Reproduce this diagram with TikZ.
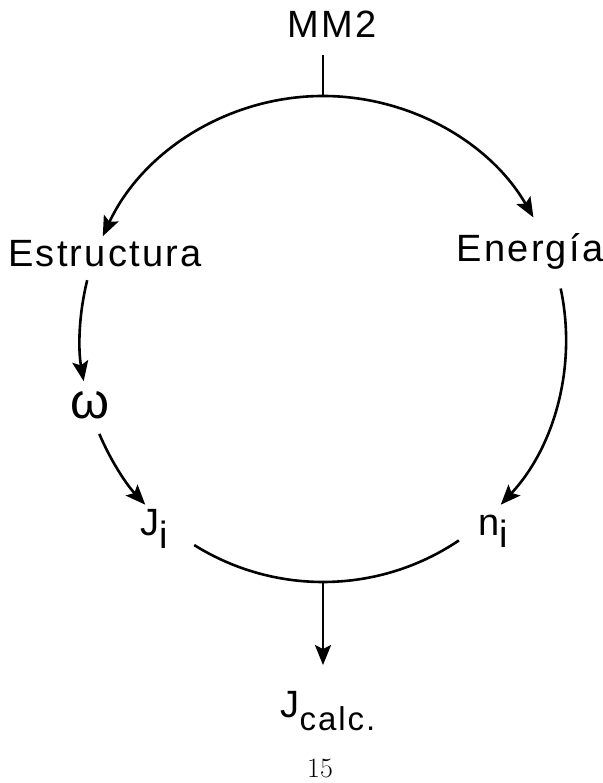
\documentclass[tikz,border=0pt]{standalone}
\usepackage{fontspec}
\newfontfamily\letra[LetterSpace=6]{Liberation Sans}
\usetikzlibrary{arrows.meta}
\begin{document}
\begin{tikzpicture}[x=1pt, y=1pt,
    lbl/.style={font=\letra\fontsize{38}{40}\selectfont, inner sep=0pt},
    ring/.style={line width=2.6pt},
    flow/.style={ring, -{Stealth[length=20pt, width=16pt, inset=4pt]}}]
      \useasboundingbox (0,0) rectangle (602,783);
      \coordinate (C) at (323,444);
      \coordinate (top) at (323,687);
      \coordinate (bot) at (323,201);
      % labels
      \node[lbl] (mm2) at (332,759) {MM2};
      \node[lbl] (est) at (105,529) {Estructura};
      \node[lbl] (ene) at (530,532) {Energía};
      \node[lbl, font=\letra\fontsize{50}{52}\selectfont] (om) at (90,378) {ω};
      \node[lbl] (ji) at (154,254) {J\raisebox{-13pt}{i}};
      \node[lbl] (ni) at (493,252) {n\raisebox{-12pt}{i}};
      \node[lbl] (jc) at (328,72) {J\raisebox{-13pt}{\fontsize{33}{34}\selectfont calc.}};
      \node[inner sep=0pt, font=\fontsize{28}{30}\selectfont] (pg) at (320,15) {15};
      % ring
      \draw[ring, shorten <=18pt] (top |- mm2.south) -- (top);
      \draw[flow] (top) arc[start angle=90, end angle=155, radius=243];
      \draw[flow] (top) arc[start angle=90, end angle=30, radius=243];
      \draw[flow] ([shift={(166:243)}]C) arc[start angle=166, end angle=190, radius=243];
      \draw[flow] ([shift={(203:243)}]C) arc[start angle=203, end angle=223, radius=243];
      \draw[flow] ([shift={(12:243)}]C) arc[start angle=12, end angle=-43, radius=243];
      \draw[ring] ([shift={(238:243)}]C) arc[start angle=238, end angle=304, radius=243];
      \draw[flow, shorten >=26pt] (bot) -- (bot |- jc.north);
\end{tikzpicture}
\end{document}
